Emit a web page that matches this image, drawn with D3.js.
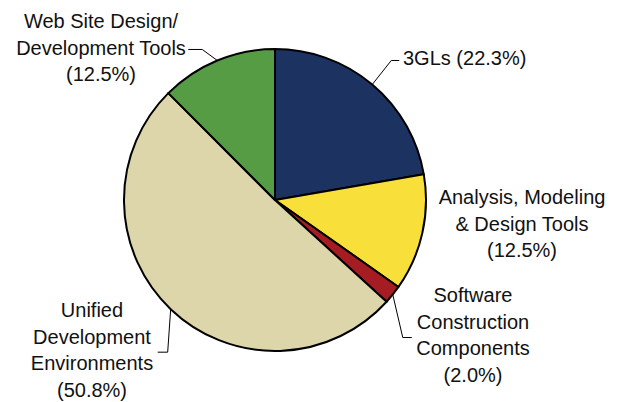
<!DOCTYPE html>
<html>
  <head>
    <meta charset="UTF-8" />
    <style>
      body {
        margin: 0;
        background: #fff;
      }
      text {
        font-family: "Liberation Sans", Arial, sans-serif;
        font-size: 20px;
        fill: #111;
      }
    </style>
  </head>
  <body>
    <svg></svg>
    <script src="https://d3js.org/d3.v7.min.js"></script>
    <script>
      let width = 621,
        height = 402;

      // chart data
      const categories = [
        "3GLs",
        "Analysis, Modeling & Design Tools",
        "Software Construction Components",
        "Unified Development Environments",
        "Web Site Design/ Development Tools",
      ];
      const shares = [22.3, 12.5, 2.0, 50.8, 12.5];
      const labelLines = [
        ["3GLs (22.3%)"],
        ["Analysis, Modeling", "& Design Tools", "(12.5%)"],
        ["Software", "Construction", "Components", "(2.0%)"],
        ["Unified", "Development", "Environments", "(50.8%)"],
        ["Web Site Design/", "Development Tools", "(12.5%)"],
      ];
      const colors = ["#1c3361", "#f9df3a", "#a51d22", "#ddd6aa", "#559c45"];

      // label layout: text anchor point, alignment, leader elbow + end (relative to pie edge)
      const layout = [
        { x: 403, y: 65, anchor: "start", leader: [[19, -24], [27, -24]] },
        { x: 522, y: 204, anchor: "middle", leader: null },
        { x: 473, y: 302, anchor: "middle", leader: [[10, 43], [19, 43]] },
        { x: 92, y: 317, anchor: "middle", leader: [[-3, 43], [-13, 43]] },
        { x: 101, y: 28, anchor: "middle", leader: [[-15, -11], [-29, -11]] },
      ];
      const lineGap = 26.7;

      const cx = 275,
        cy = 200,
        radius = 151;

      let svg = d3
        .select("svg")
        .attr("width", width)
        .attr("height", height);

      const pie = d3.pie().sort(null).value((d) => d);
      const arcs = pie(shares);
      const arc = d3.arc().innerRadius(0).outerRadius(radius);

      let g = svg.append("g").attr("transform", `translate(${cx},${cy})`);

      g.selectAll("path")
        .data(arcs)
        .enter()
        .append("path")
        .attr("d", arc)
        .attr("fill", (d, i) => colors[i])
        .attr("stroke", "#000")
        .attr("stroke-width", 2)
        .attr("stroke-linejoin", "round");

      // leader lines from the middle of each slice's rim
      arcs.forEach((d, i) => {
        const lay = layout[i];
        if (!lay.leader) return;
        const mid = (d.startAngle + d.endAngle) / 2;
        const sx = radius * Math.sin(mid),
          sy = -radius * Math.cos(mid);
        const pts = [[sx, sy]].concat(
          lay.leader.map((p) => [sx + p[0], sy + p[1]])
        );
        g.append("path")
          .attr("d", d3.line()(pts))
          .attr("fill", "none")
          .attr("stroke", "#000")
          .attr("stroke-width", 1);
      });

      // labels
      let labels = svg.append("g").attr("id", "labels");
      labelLines.forEach((lines, i) => {
        const lay = layout[i];
        const t = labels
          .append("text")
          .attr("text-anchor", lay.anchor)
          .attr("x", lay.x)
          .attr("y", lay.y);
        lines.forEach((line, j) => {
          t.append("tspan")
            .attr("x", lay.x)
            .attr("y", lay.y + j * lineGap)
            .text(line);
        });
      });
    </script>
  </body>
</html>
